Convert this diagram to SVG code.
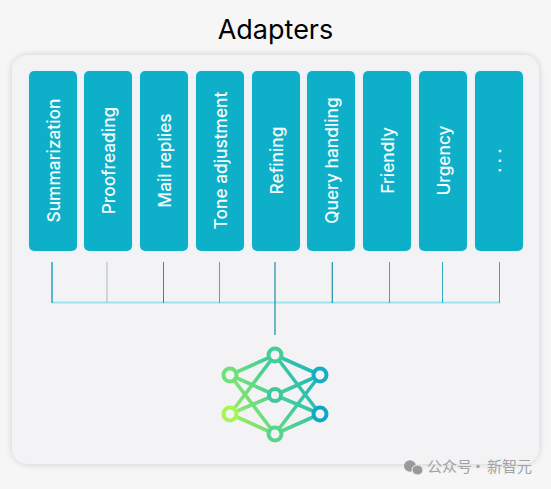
<svg xmlns="http://www.w3.org/2000/svg" width="551" height="489" viewBox="0 0 551 489">
<style>
.card{fill:#0fb0c8;filter:url(#glow)}
.lbl{font-family:"Inter","Liberation Sans",sans-serif;font-size:17.300px;font-weight:500;fill:#f4fbfc;text-anchor:middle;dominant-baseline:central}
.net{fill:none;stroke:url(#ng);stroke-width:3.600;stroke-linecap:round}
.nd{fill:#f3f3f6;stroke-width:4}
.wm{font-family:"Noto Sans CJK SC",sans-serif;font-size:15px;fill:#a2a2a2}
</style>
<defs>
<filter id="shadow" x="-5%" y="-5%" width="110%" height="110%"><feGaussianBlur in="SourceAlpha" stdDeviation="3.500"/><feComponentTransfer><feFuncA type="linear" slope="0.18"/></feComponentTransfer><feMerge><feMergeNode/><feMergeNode in="SourceGraphic"/></feMerge></filter>
<filter id="glow" x="-15%" y="-5%" width="130%" height="110%"><feGaussianBlur in="SourceGraphic" stdDeviation="1.500" result="b"/><feColorMatrix in="b" type="matrix" values="0 0 0 0 0.45 0 0 0 0 0.85 0 0 0 0 0.95 0 0 0 0.5 0" result="c"/><feMerge><feMergeNode in="c"/><feMergeNode in="SourceGraphic"/></feMerge></filter>
<linearGradient id="ng" gradientUnits="userSpaceOnUse" x1="222" y1="425" x2="328" y2="365"><stop offset="0" stop-color="#b0f552"/><stop offset="0.45" stop-color="#55d48e"/><stop offset="1" stop-color="#0eafc8"/></linearGradient>
</defs>
<rect width="551" height="489" fill="#f6f6f7"/>
<text x="275.500" y="39" font-family="Inter,'Liberation Sans',sans-serif" font-size="27" fill="#000" text-anchor="middle">Adapters</text>
<g id="panel"><rect x="12" y="55" width="527" height="409" rx="16" fill="#f3f3f6" filter="url(#shadow)"/></g>
<g id="node-summarization"><rect class="card" x="29" y="71" width="48" height="180" rx="5"/><text class="lbl" transform="translate(53 160.500) rotate(-90)">Summarization</text></g>
<g id="node-proofreading"><rect class="card" x="84" y="71" width="48" height="180" rx="5"/><text class="lbl" transform="translate(108 160.500) rotate(-90)">Proofreading</text></g>
<g id="node-mail"><rect class="card" x="140" y="71" width="48" height="180" rx="5"/><text class="lbl" transform="translate(164 160.500) rotate(-90)">Mail replies</text></g>
<g id="node-tone"><rect class="card" x="196" y="71" width="48" height="180" rx="5"/><text class="lbl" transform="translate(220 160.500) rotate(-90)">Tone adjustment</text></g>
<g id="node-refining"><rect class="card" x="252" y="71" width="48" height="180" rx="5"/><text class="lbl" transform="translate(276 160.500) rotate(-90)">Refining</text></g>
<g id="node-query"><rect class="card" x="307" y="71" width="48" height="180" rx="5"/><text class="lbl" transform="translate(331 160.500) rotate(-90)">Query handling</text></g>
<g id="node-friendly"><rect class="card" x="363" y="71" width="48" height="180" rx="5"/><text class="lbl" transform="translate(387 160.500) rotate(-90)">Friendly</text></g>
<g id="node-urgency"><rect class="card" x="419" y="71" width="48" height="180" rx="5"/><text class="lbl" transform="translate(443 160.500) rotate(-90)">Urgency</text></g>
<g id="node-more"><rect class="card" x="475" y="71" width="48" height="180" rx="5"/><text class="lbl" transform="translate(494.500 160.500) rotate(-90)">. . .</text></g>
<g id="connectors">
<path d="M52 302.500H500" stroke="#9ae5f0" stroke-width="2" fill="none"/>
<path d="M52 262V303" stroke="#2fabc4" stroke-width="1.600" fill="none"/>
<path d="M107 262V303" stroke="#b5c6cc" stroke-width="1.300" fill="none"/>
<path d="M163.500 262V303" stroke="#1c93ad" stroke-width="1" fill="none"/>
<path d="M219.500 262V303" stroke="#2fb5cb" stroke-width="1" fill="none"/>
<path d="M275 262V335" stroke="#4fa5b8" stroke-width="1.600" fill="none"/>
<path d="M332.300 262V303" stroke="#1c93ad" stroke-width="1.200" fill="none"/>
<path d="M389.500 262V303" stroke="#2fabc4" stroke-width="1" fill="none"/>
<path d="M442.500 262V303" stroke="#2fabc4" stroke-width="1" fill="none"/>
<path d="M499.500 262V303" stroke="#2fabc4" stroke-width="1" fill="none"/>
</g>
<g id="node-network">
<path class="net" d="M230 375L275 355M230 375L275 395M230 375L275 434M230 414L275 355M230 414L275 395M230 414L275 434M320 375L275 355M320 375L275 395M320 375L275 434M320 414L275 355M320 414L275 395M320 414L275 434"/>
<circle class="nd" cx="275" cy="355" r="6.500" stroke="#42cf95"/>
<circle class="nd" cx="230" cy="375" r="6.500" stroke="#70e07a"/>
<circle class="nd" cx="320" cy="375" r="6.500" stroke="#16aec2"/>
<circle class="nd" cx="275" cy="395" r="6" stroke="#40c89c"/>
<circle class="nd" cx="230" cy="414" r="6.500" stroke="#a8f455"/>
<circle class="nd" cx="320" cy="414" r="6.500" stroke="#0fa9c4"/>
<circle class="nd" cx="275" cy="434" r="6.500" stroke="#55d48e"/>
</g>
<g id="watermark">
<ellipse cx="410" cy="466" rx="6" ry="5.800" fill="#9a9a9a"/>
<ellipse cx="417.500" cy="470" rx="5.500" ry="5" fill="#9a9a9a" stroke="#f4f4f5" stroke-width="1"/>
<text class="wm" x="427" y="472">公众号</text>
<text class="wm" x="478" y="472" text-anchor="middle">·</text>
<text class="wm" x="487" y="472">新智元</text>
</g>
</svg>
